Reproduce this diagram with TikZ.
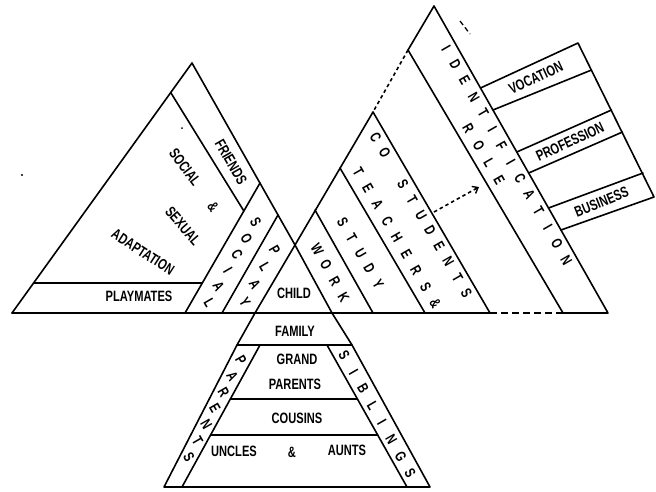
\documentclass[tikz,border=0pt]{standalone}
\usepackage{fontspec}
\newfontfamily\lblfont{Liberation Sans}[FakeStretch=0.74]
\usetikzlibrary{arrows.meta}
\tikzset{
  edge/.style={line width=1.6pt, line cap=round, line join=round},
  dashedge/.style={line width=1.6pt, dash pattern=on 7pt off 4pt},
  dotedge/.style={line width=1.6pt, dash pattern=on 3.5pt off 3pt},
  lbl/.style={font=\lblfont\fontsize{15}{16}\selectfont\bfseries, inner sep=0pt},
  ltr/.style={lbl, rotate=-60},
}
% stacked letters: name, x0, y0, dx, dy, letters
\newcommand\stackword[6]{%
  \foreach \ch [count=\k from 0] in {#6} {%
    \node[ltr] (#1-\k) at ({#2+\k*#4},{#3+\k*#5}) {\ch};
  }}
\begin{document}
\begin{tikzpicture}[x=1pt,y=-1pt]
\fill[white] (0,0) rectangle (656,491);
\useasboundingbox (0,0) rectangle (656,491);
% ---- key points
\coordinate (LA) at (192,63);   % left apex
\coordinate (LL) at (12,313);   % left base corner
\coordinate (RA) at (434,6);    % right apex
\coordinate (RR) at (608,313);  % right base corner
\coordinate (X)  at (295,245);  % crossing
\coordinate (CL) at (255,313);
\coordinate (CR) at (332,313);
\coordinate (D1) at (408,50);   % dotted start
\coordinate (D2) at (373,112);  % dotted end
\coordinate (B1) at (490,313);  % dashed base start
\coordinate (B2) at (563,313);  % dashed base end
% left triangle inner lines
\coordinate (F1) at (171,93);
\coordinate (F2) at (243.8,210.9);
\coordinate (S1) at (260,183);
\coordinate (S2) at (185,313);
\coordinate (P1) at (278,215);
\coordinate (P2) at (222,313);
\coordinate (M1) at (33.6,283);
\coordinate (M2) at (202.3,283);
% right triangle inner lines
\coordinate (W1) at (315,210);
\coordinate (W2) at (373,313);
\coordinate (T1) at (340,168);
\coordinate (T2) at (425,313);
% lower part
\coordinate (FL) at (237,345);
\coordinate (FR) at (352,345);
\coordinate (BL) at (164,487);
\coordinate (BR) at (430,487);
\coordinate (PI1) at (260,345);
\coordinate (PI2) at (182,487);
\coordinate (SI1) at (327,345);
\coordinate (SI2) at (407,487);
\coordinate (G1) at (230.4,399);
\coordinate (G2) at (357.4,399);
\coordinate (U1) at (210.6,435);
\coordinate (U2) at (377.7,435);
% boxes
\coordinate (V1) at (480.5,88);  \coordinate (V1o) at (578,43);
\coordinate (V2) at (493,110);   \coordinate (V2o) at (591.5,70);
\coordinate (Q1) at (516.8,152); \coordinate (Q1o) at (611.5,110);
\coordinate (Q2) at (528.7,173); \coordinate (Q2o) at (622.5,132);
\coordinate (K1) at (548.5,208); \coordinate (K1o) at (643,173);
\coordinate (K2) at (561,230);   \coordinate (K2o) at (654,197);
% arrow
\coordinate (A1) at (434,212);
\coordinate (A2) at (479,187);

% ---- outlines
\draw[edge] (LL) -- (LA) -- (X) -- (CR) -- (FR) -- (BR) -- (BL) -- (FL) -- (CL) -- (X) -- (D2);
\draw[edge] (D1) -- (RA) -- (RR) -- (B2);
\draw[dotedge] (D1) -- (D2);
\draw[edge] (LL) -- (B1);
\draw[dashedge] (B1) -- (B2);
% left inner
\draw[edge] (F1) -- (F2);
\draw[edge] (S1) -- (S2);
\draw[edge] (P1) -- (P2);
\draw[edge] (M1) -- (M2);
% right inner
\draw[edge] (W1) -- (W2);
\draw[edge] (T1) -- (T2);
\draw[edge] (D2) -- (B1);
\draw[edge] (D1) -- (B2);
% lower inner
\draw[edge] (FL) -- (FR);
\draw[edge] (PI1) -- (PI2);
\draw[edge] (SI1) -- (SI2);
\draw[edge] (G1) -- (G2);
\draw[edge] (U1) -- (U2);
% boxes
\draw[edge] (V1) -- (V1o) -- (K2o) -- (K2);
\draw[edge] (V2) -- (V2o);
\draw[edge] (Q1) -- (Q1o);
\draw[edge] (Q2) -- (Q2o);
\draw[edge] (K1) -- (K1o);
% dashed arrow
\draw[dotedge, -{Straight Barb[length=5pt,width=8pt,line width=1.4pt]}] (A1) -- (A2);
% stray marks
\coordinate (m1) at (460,21); \coordinate (m2) at (470,34);
\draw[line width=1.3pt, dash pattern=on 5pt off 3pt] (m1) -- (m2);
\fill (22,175) circle (1.2pt);
\fill (182,128) circle (1pt);

% ---- texts
\node[lbl] (playmates) at (139,296) {PLAYMATES};
\node[lbl] (child) at (294,293) {CHILD};
\node[lbl] (family) at (295,331) {FAMILY};
\node[lbl] (grand) at (297,359) {GRAND};
\node[lbl] (gparents) at (295,384) {PARENTS};
\node[lbl] (cousins) at (297,418) {COUSINS};
\node[lbl] (uncles) at (234,451) {UNCLES};
\node[lbl] (amp2) at (292,452) {\&};
\node[lbl] (aunts) at (347,450) {AUNTS};

\node[lbl, rotate=-60] (friends) at (231,162) {FRIENDS};
\node[lbl, rotate=-53] (social) at (185,167) {SOCIAL};
\node[lbl, rotate=-55] (amp1) at (213,207) {\&};
\node[lbl, rotate=-49] (sexual) at (183,226) {SEXUAL};
\node[lbl, rotate=-33] (adapt) at (143,252) {ADAPTATION};

\node[lbl, rotate=25] (vocation) at (535.75,77.75) {VOCATION};
\node[lbl, rotate=25] (profession) at (570,141.75) {PROFESSION};
\node[lbl, rotate=22] (business) at (601.6,202) {BUSINESS};

\stackword{soc}{255.8}{222}{-9.32}{16.2}{S,O,C,I,A,L}
\stackword{play}{274.7}{250}{-9.95}{17.3}{P,L,A,Y}
\stackword{par}{241.0}{360}{-8.67}{16.2}{P,A,R,E,N,T,S}
\stackword{sib}{344.2}{355}{9.43}{16.9}{S,I,B,L,I,N,G,S}
\stackword{work}{317.1}{249}{8.86}{16}{W,O,R,K}
\stackword{study}{342.7}{222}{8.9}{15.5}{S,T,U,D,Y}
\stackword{teach}{358.4}{172}{9.61}{16.4}{T,E,A,C,H,E,R,S,\&}
\stackword{costu}{375.7}{137}{9.08}{15.6}{C,O,{},S,T,U,D,E,N,T,S}
\stackword{role}{468.4}{128}{10.3}{17.5}{R,O,L,E}
\stackword{ident}{446.2}{48}{9.24}{16.3}{I,D,E,N,T,I,F,I,C,A,T,I,O,N}
\end{tikzpicture}
\end{document}
